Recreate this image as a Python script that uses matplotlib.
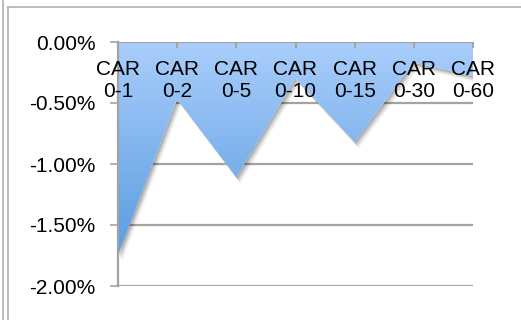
import numpy as np
import matplotlib
matplotlib.use("Agg")
import matplotlib.pyplot as plt
from matplotlib.colors import LinearSegmentedColormap
from matplotlib.patches import Polygon
import matplotlib.transforms as mtransforms
from matplotlib.ticker import FuncFormatter

plt.rcParams['font.family'] = ['Liberation Sans', 'DejaVu Sans']

categories = ["CAR\n0-1", "CAR\n0-2", "CAR\n0-5", "CAR\n0-10", "CAR\n0-15", "CAR\n0-30", "CAR\n0-60"]
car_values = [-1.75, -0.47, -1.11, -0.30, -0.82, -0.17, -0.28]
y_ticks = [0.0, -0.5, -1.0, -1.5, -2.0]

grid_col = "#a3a3a3"

fig = plt.figure(figsize=(5.21, 3.2), dpi=100)
ax = fig.add_axes([118 / 521, 34 / 320, 355 / 521, 244 / 320])

x = np.arange(len(car_values))
ax.set_xlim(x[0], x[-1])
ax.set_ylim(-2.0, 0.0)

# area outline: down from the zero line through each value and back
verts = [(x[0], 0.0)] + list(zip(x, car_values)) + [(x[-1], 0.0)]

# soft drop shadow, a few offset layers
for k, a in [(5, 0.04), (4, 0.06), (3, 0.08), (2, 0.1), (1, 0.1)]:
    off = mtransforms.offset_copy(ax.transData, fig=fig, x=k * 0.6, y=-k * 0.9, units='points')
    ax.add_patch(Polygon(verts, closed=True, facecolor="black", edgecolor="none",
                         alpha=a, transform=off, zorder=1))

# white base so the shadow does not show through the gradient
base = Polygon(verts, closed=True, facecolor="white", edgecolor="none", zorder=2)
ax.add_patch(base)

cmap = LinearSegmentedColormap.from_list("car", ["#aacefc", "#5a9ce0"])
grad = np.linspace(0, 1, 256).reshape(-1, 1)
img = ax.imshow(grad, cmap=cmap, aspect='auto', extent=(x[0], x[-1], min(car_values), 0.0),
                origin='upper', zorder=3)
clip = Polygon(verts, closed=True, facecolor="none", edgecolor="none", transform=ax.transData)
ax.add_patch(clip)
img.set_clip_path(clip)
ax.set_xlim(x[0], x[-1])
ax.set_ylim(-2.0, 0.0)

# gridlines
ax.set_yticks(y_ticks)
ax.yaxis.set_major_formatter(FuncFormatter(lambda v, p: "%.2f%%" % v))
for yv in y_ticks:
    ax.axhline(yv, color=grid_col, lw=1.6, zorder=0.5 if yv != 0 else 4)
ax.tick_params(axis='y', length=6, width=1.2, color=grid_col, pad=10, labelsize=15)

# category axis at zero with ticks hanging below it
ax.set_xticks([])
for xi in x:
    ax.plot([xi, xi], [0, 0], marker=3, markersize=4, color=grid_col, mew=1.4,
            zorder=5, clip_on=False)
for xi, lab in zip(x, categories):
    ax.annotate(lab, (xi, 0.0), xytext=(0, -13), textcoords='offset points',
                ha='center', va='top', fontsize=15, linespacing=1.18, zorder=6)

for s in ['top', 'right', 'bottom']:
    ax.spines[s].set_visible(False)
ax.spines['left'].set_color(grid_col)
ax.spines['left'].set_linewidth(1.6)
ax.spines['left'].set_zorder(5)

# outer frame lines
fig.add_artist(plt.Line2D([2.5 / 521, 2.5 / 521], [0, 1], color="#b0b0b0", lw=1.2))
fig.add_artist(plt.Line2D([7.5 / 521, 7.5 / 521], [0, 1 - 7 / 320], color="#b0b0b0", lw=1.2))
fig.add_artist(plt.Line2D([7.5 / 521, 1], [1 - 7 / 320, 1 - 7 / 320], color="#b0b0b0", lw=1.2))

fig.savefig("out.png", dpi=100)
